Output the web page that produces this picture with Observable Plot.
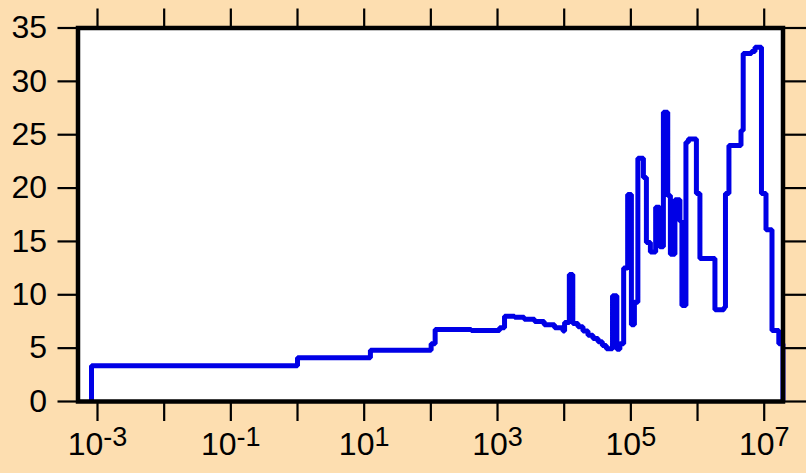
<!DOCTYPE html>
<html><head><meta charset="utf-8">
<script src="https://cdn.jsdelivr.net/npm/d3@7"></script>
<script src="https://cdn.jsdelivr.net/npm/@observablehq/plot@0.6"></script>
<style>html,body{margin:0;padding:0;background:#FDDEB0;}</style>
</head><body><div id="chart"></div>
<script>
const stepX = [8.13e-4, 8.13e-4, 1.0, 12.4, 101, 116, 403, 1072, 1274, 1799, 2512, 3597, 5012, 7178, 9594,
  10140, 11940, 13460, 16110, 19140, 22750, 27040, 32210, 37330, 42850, 53090, 61660, 68390, 77980,
  89540, 101900, 113000, 127400, 154200, 171000, 196300, 235500, 270400, 307600, 357300, 391700,
  458100, 544500, 583400, 669900, 729500, 961600, 1.086e6, 1.824e6, 2.489e6, 2.624e6, 2.958e6,
  4.487e6, 4.842e6, 6.442e6, 7.278e6, 9.099e6, 1.064e7, 1.309e7, 1.656e7, 1.91e7];
const stepY = [0, 3.35, 4.1, 4.8, 5.4, 6.75, 6.65, 6.9, 8.0, 7.9, 7.7, 7.5, 7.2, 6.9, 6.6,
  7.4, 11.9, 7.3, 7.0, 6.6, 6.2, 5.9, 5.6, 5.25, 4.95, 9.9, 4.9, 5.4, 12.5,
  19.4, 7.2, 9.3, 22.8, 21.0, 14.9, 14.0, 18.2, 14.5, 27.1, 19.3, 13.8,
  18.9, 16.9, 9.0, 24.3, 24.6, 19.5, 13.4, 8.6, 8.8, 19.5, 24.0,
  25.4, 32.6, 32.8, 33.2, 19.5, 16.1, 6.66, 5.4, 0];
const xTickExponents = [-3, -2, -1, 0, 1, 2, 3, 4, 5, 6, 7];
const xLabelExponents = [-3, -1, 1, 3, 5, 7];
const yTickValues = [0, 5, 10, 15, 20, 25, 30, 35];

const xTickValues = xTickExponents.map(e => Math.pow(10, e));
const data = stepX.map((x, i) => ({x, y: stepY[i]}));

const chart = Plot.plot({
  width: 806, height: 473,
  marginLeft: 77.5, marginRight: 23.5, marginTop: 27.5, marginBottom: 72,
  style: {background: "#FDDEB0", fontFamily: "'Liberation Sans', Arial, sans-serif", fontSize: "32px", color: "black"},
  x: {type: "log", domain: [5.1e-4, 1.914e7]},
  y: {domain: [0, 35]},
  marks: [
    Plot.frame({fill: "white"}),
    Plot.line(data, {x: "x", y: "y", curve: "step-after", stroke: "#0000E6", strokeWidth: 5, strokeLinejoin: "miter", strokeLinecap: "butt"}),
    Plot.frame({stroke: "black", strokeWidth: 4.5}),
    Plot.axisX({anchor: "bottom", ticks: xTickValues, tickSize: 20, tickPadding: 11, strokeWidth: 2.2, label: null,
      tickFormat: d => { const e = Math.round(Math.log10(d)); return xLabelExponents.includes(e) ? "10^" + e : ""; }}),
    Plot.axisX({anchor: "top", ticks: xTickValues, tickSize: 20, strokeWidth: 2.2, label: null, tickFormat: () => ""}),
    Plot.axisY({anchor: "left", ticks: yTickValues, tickSize: 20, tickPadding: 11, strokeWidth: 2.2, label: null}),
    Plot.axisY({anchor: "right", ticks: yTickValues, tickSize: 24, strokeWidth: 2.2, label: null, tickFormat: () => ""})
  ]
});

d3.select(chart).selectAll('g[aria-label="x-axis tick label"] text').each(function() {
  const t = d3.select(this);
  const s = t.text();
  if (!s || s.indexOf("^") < 0) return;
  const [base, exp] = s.split("^");
  t.text(null);
  t.append("tspan").text(base);
  t.append("tspan").attr("dy", "-0.33em").attr("font-size", "27px").text(exp);
});

document.getElementById("chart").appendChild(chart);
</script>
</body></html>
